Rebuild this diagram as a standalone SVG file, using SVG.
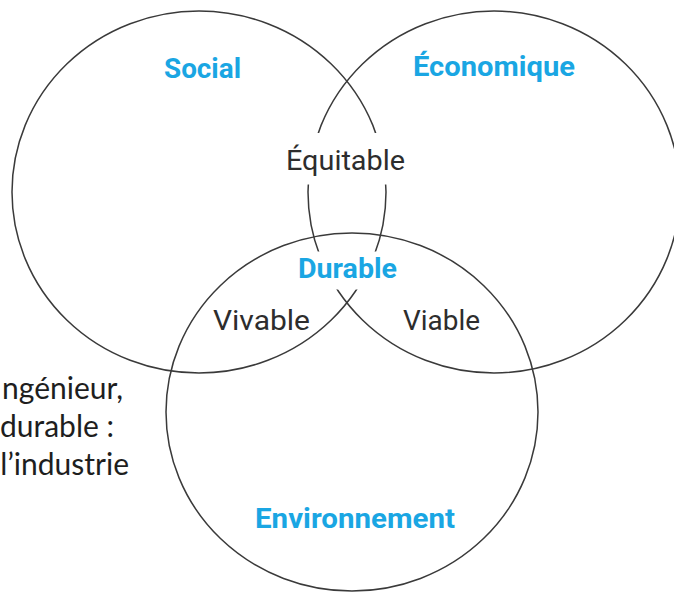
<svg xmlns="http://www.w3.org/2000/svg" width="674" height="593" viewBox="0 0 674 593">
  <style>
    .ring { fill: none; stroke: #3a3a3a; stroke-width: 1.5; }
    .main { font-family: Roboto, "Liberation Sans", sans-serif; font-weight: 700; font-size: 27px; fill: #1aa6e3; }
    .inter { font-family: Roboto, "Liberation Sans", sans-serif; font-weight: 400; font-size: 27px; fill: #2d2d2d; }
    .side { font-family: Lato, "Open Sans", sans-serif; font-size: 30px; fill: #1e1e1e; text-anchor: end; }
  </style>
  <defs>
    <mask id="gaps" maskUnits="userSpaceOnUse" x="0" y="0" width="674" height="593">
      <rect x="0" y="0" width="674" height="593" fill="#fff"/>
      <rect x="295" y="133" width="105" height="51.5" fill="#000"/>
      <rect x="295" y="251.5" width="105" height="38" fill="#000"/>
    </mask>
  </defs>

  <g id="social">
    <ellipse class="ring" cx="199" cy="192" rx="187" ry="181" mask="url(#gaps)"/>
    <text class="main" x="164" y="78" textLength="77" lengthAdjust="spacingAndGlyphs">Social</text>
  </g>

  <g id="economique">
    <ellipse class="ring" cx="494" cy="192" rx="186" ry="181" mask="url(#gaps)"/>
    <text class="main" x="413" y="76" textLength="162" lengthAdjust="spacingAndGlyphs">Économique</text>
  </g>

  <g id="environnement">
    <ellipse class="ring" cx="352" cy="412" rx="186" ry="179" mask="url(#gaps)"/>
    <text class="main" x="255" y="527.5" textLength="200" lengthAdjust="spacingAndGlyphs">Environnement</text>
  </g>

  <g id="equitable">
    <text class="inter" x="286" y="169.5" textLength="119" lengthAdjust="spacingAndGlyphs">Équitable</text>
  </g>

  <g id="durable">
    <text class="main" x="298" y="278" textLength="99" lengthAdjust="spacingAndGlyphs">Durable</text>
  </g>

  <g id="vivable">
    <text class="inter" x="213" y="329.5" textLength="97" lengthAdjust="spacingAndGlyphs">Vivable</text>
  </g>

  <g id="viable">
    <text class="inter" x="403" y="329.5" textLength="77" lengthAdjust="spacingAndGlyphs">Viable</text>
  </g>

  <g id="connectors"></g>

  <g id="side-text">
    <text class="side" x="123" y="399">ngénieur,</text>
    <text class="side" x="114" y="437">durable :</text>
    <text class="side" x="129" y="474.5">l’industrie</text>
  </g>
</svg>
